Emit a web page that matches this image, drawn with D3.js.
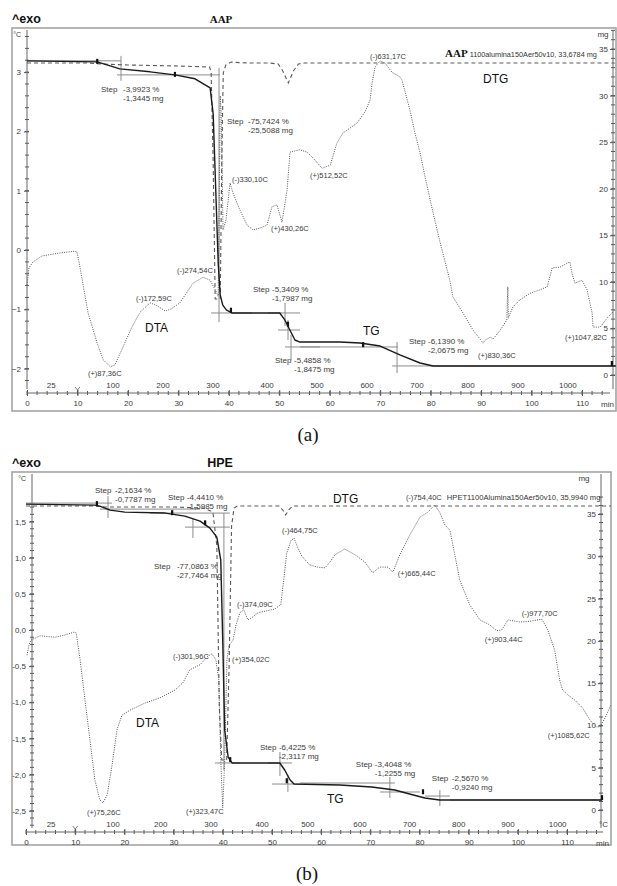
<!DOCTYPE html>
<html>
<head>
<meta charset="utf-8">
<script src="https://cdn.jsdelivr.net/npm/d3@7/dist/d3.min.js"></script>
<style>
  body { margin: 0; background: #fff; }
  svg { display: block; font-family: "Liberation Sans", Arial, sans-serif; }
  .axis text, .lbl { fill: #3a3a3a; font-size: 8px; }
  .axis line { stroke: #555; }
</style>
</head>
<body>
<svg id="chart" width="617" height="886"></svg>
<script>
// shared tick data
const minuteTicks = d3.range(0, 111, 10);
const minuteMinor = d3.range(0, 117, 2);
const tempLabels = ['25', '100', '200', '300', '400', '500', '600', '700', '800', '900', '1000'];
const tempMinutesA = [4.8, 17.05, 26.96, 36.87, 47.6, 57.5, 67.4, 77.3, 87.4, 97.3, 107.2];
const tempMinutesB = [5.1, 17.7, 27.4, 37.6, 48.0, 57.3, 67.9, 78.0, 88.0, 98.0, 108.1];
const mgTicks = [0, 5, 10, 15, 20, 25, 30, 35];

// ---- (a) AAP ----
const dtaTicksA = [-2, -1, 0, 1, 2, 3];
// DTA (min, °C-axis value)
const dtaA = [[0,-0.59],[0.4,-0.30],[1.2,-0.20],[3.0,-0.10],[6.5,-0.05],[9.5,-0.02],[9.9,-0.03],[10.5,-0.29],
  [12.1,-1.06],[13.9,-1.57],[15.1,-1.85],[16.5,-1.97],[17.4,-1.94],[19.0,-1.64],[20.8,-1.30],[22.4,-1.05],
  [24.4,-0.89],[25.8,-0.94],[27.4,-1.03],[28.7,-0.99],[30.3,-0.89],[32.9,-0.56],[34.9,-0.46],[36.3,-0.51],
  [37.3,-0.67],[37.9,-0.78],[38.1,0.84],[38.3,2.6],[38.5,2.3],[38.85,0.34],[39.44,0.51],[40.24,1.13],
  [40.83,0.96],[42.22,0.67],[43.61,0.42],[44.8,0.34],[46.18,0.37],[47.57,0.42],[48.56,0.73],[49.55,0.76],
  [50.54,0.47],[51.54,1.01],[52.13,1.65],[54.1,1.69],[55.5,1.65],[56.7,1.55],[58.5,1.38],[60.1,1.43],
  [61.4,1.80],[62.6,1.97],[65.4,2.14],[67.0,2.33],[68.0,2.53],[68.4,2.82],[69.0,3.09],[70.0,3.19],
  [71.0,3.15],[72.3,3.0],[73.9,2.92],[74.3,2.87],[75.9,2.36],[76.9,1.97],[77.9,1.64],[78.9,1.23],
  [80.5,0.62],[81.9,0.12],[83.8,-0.51],[84.4,-0.79],[86.4,-1.06],[88.4,-1.35],[90.4,-1.57],[90.8,-1.52],
  [91.8,-1.47],[92.4,-1.50],[93.8,-1.35],[95.1,-1.18],[95.3,-0.62],[95.4,-1.15],[96.3,-0.96],[97.7,-0.84],
  [99.7,-0.73],[101.7,-0.67],[103.1,-0.62],[104.1,-0.30],[105.6,-0.29],[107.6,-0.20],[108.0,-0.39],
  [108.6,-0.56],[110.0,-0.51],[111.0,-0.67],[112.0,-1.06],[112.2,-1.30],[113.6,-1.30],[114.96,-1.15],[116.5,-1.01]];
// TG (min, mg)
const tgA = [[0,33.73],[13.9,33.62],[16.5,33.19],[18.4,32.87],[24.4,32.55],[29.3,32.22],[33.3,31.8],
  [36.3,30.83],[36.9,28],[37.4,20],[37.9,12],[38.3,8.6],[38.8,7.5],[39.5,7.0],[40.6,6.66],[50.1,6.66],
  [51.1,5.91],[52.1,4.83],[53.1,3.76],[54.1,3.54],[62,3.54],[66,3.44],[70,3.11],[73.9,2.15],[77.9,1.29],
  [80.5,0.97],[116.7,0.97]];
// DTG (min, mg/min)
const dtgA = [[0,0],[12,0],[15,-0.05],[20,-0.1],[30,-0.15],[36.2,-0.2],[36.5,-0.5],[36.9,-5],[37.3,-11.8],
  [38.3,-11.8],[38.6,-5],[38.9,-0.5],[39.4,-0.1],[40.5,0.05],[42,0.02],[44,0],[48,0],[49.8,-0.05],
  [50.7,-0.4],[51.8,-1.0],[52.8,-0.4],[53.8,-0.05],[55,0],[116.5,0]];
// tangent / onset construction segments (min, mg, min, mg)
const tangentsA = [[0,33.73,18.63,33.73],[17.84,32.22,38.26,32.22],[18.63,34.26,18.63,31.58],
  [38.06,32.97,38.06,5.69],[36.47,6.66,44.6,6.66],[51.14,7.73,51.14,5.26],[47.77,6.66,54.11,6.66],
  [49.75,4.83,54.11,4.83],[51.73,5.91,51.73,3.76],[51.14,3.01,58.08,3.01],[52.33,4.30,52.33,1.61],
  [54.11,3.01,73.54,3.01],[73.34,3.54,73.34,0.21],[72.35,0.97,116.75,0.97]];
const tgMarksA = [[13.9,33.62],[29.3,32.22],[40.4,6.9],[51.7,5.4],[66.6,3.2],[115.9,1.18]];
// step results (label anchor min, °C-axis value, value column min)
const stepsA = [
  {t: 14.67, v: 2.715, tv: 19.03, pct: '-3,9923 %', mg: '-1,3445 mg'},
  {t: 39.64, v: 2.175, tv: 43.81, pct: '-75,7424 %', mg: '-25,5088 mg'},
  {t: 44.80, v: -0.658, tv: 48.56, pct: '-5,3409 %', mg: '-1,7987 mg'},
  {t: 49.16, v: -1.855, tv: 52.93, pct: '-5,4858 %', mg: '-1,8475 mg'},
  {t: 75.72, v: -1.535, tv: 79.48, pct: '-6,1390 %', mg: '-2,0675 mg'}];
const peaksA = [
  {t: 40.63, v: 1.197, text: '(-)330,10C'}, {t: 48.36, v: 0.371, text: '(+)430,26C'},
  {t: 29.73, v: -0.337, text: '(-)274,54C'}, {t: 21.61, v: -0.809, text: '(-)172,59C'},
  {t: 12.09, v: -2.074, text: '(+)87,36C'}, {t: 56.09, v: 1.265, text: '(+)512,52C'},
  {t: 67.99, v: 3.272, text: '(-)631,17C'}, {t: 89.39, v: -1.771, text: '(+)830,36C'},
  {t: 106.64, v: -1.467, text: '(+)1047,82C'}];
const curveNamesA = [{t: 23.39, v: -1.315, text: 'DTA'}, {t: 66.6, v: -1.366, text: 'TG'}, {t: 90.39, v: 2.884, text: 'DTG'}];

// ---- (b) HPE ----
const dtaTicksB = [-2.5, -2, -1.5, -1, -0.5, 0, 0.5, 1, 1.5];
const dtaB = [[0.2,-0.35],[0.6,-0.21],[1.0,-0.14],[2.85,-0.08],[5.9,-0.10],[7.9,-0.07],[9.75,-0.03],[10.2,-0.04],
  [11.0,-0.41],[12.0,-0.97],[13.0,-1.52],[14.0,-2.07],[15.0,-2.35],[15.65,-2.39],[16.5,-2.28],[17.5,-1.87],
  [18.5,-1.38],[19.5,-1.18],[21.1,-1.11],[24.2,-1.01],[27.2,-0.94],[30.3,-0.83],[31.9,-0.73],[33.3,-0.55],
  [35.4,-0.48],[37.0,-0.36],[37.8,-0.33],[38.6,-0.41],[39.2,-0.69],[39.6,-1.8],[40.0,-2.46],[40.4,-1.8],
  [40.85,-0.41],[41.3,-0.21],[42.1,-0.14],[42.7,0.07],[43.5,0.24],[44.3,0.28],[45.1,0.14],[45.9,0.17],
  [47.2,0.24],[48.6,0.26],[50.6,0.29],[51.8,0.35],[52.4,0.69],[53.0,1.06],[53.9,1.24],[54.5,1.27],
  [55.3,1.13],[56.1,1.02],[57.7,0.90],[59.3,0.87],[60.8,0.86],[61.8,0.94],[62.8,1.04],[64.8,1.12],
  [66.9,1.04],[68.9,0.94],[70.5,0.79],[71.9,0.87],[73.6,0.87],[74.6,0.80],[76.0,1.04],[78.0,1.31],
  [80.1,1.56],[81.7,1.63],[83.1,1.73],[84.1,1.63],[85.2,1.45],[86.2,1.38],[88.2,0.69],[90.2,0.35],
  [92.3,0.14],[94.3,0.07],[95.7,-0.01],[96.7,0.0],[98.0,0.14],[100.4,0.11],[102.4,0.12],[104.9,0.15],
  [106.1,0.0],[107.5,-0.28],[108.5,-0.69],[109.1,-0.83],[110.2,-0.90],[111.6,-0.97],[113.2,-1.08],
  [114.6,-1.24],[115.9,-1.34],[116.7,-1.34],[117.7,-1.22],[118.9,-1.04]];
const tgB = [[0,36.17],[14.0,36.05],[15.0,35.93],[17.1,35.46],[20.1,35.22],[28.3,35.11],[32.3,34.75],
  [35.4,34.16],[37.4,33.33],[38.8,32.27],[39.6,29.55],[40.0,20.1],[40.4,9.46],[41.1,6.26],[41.9,5.56],
  [51.6,5.56],[52.6,4.73],[53.7,3.55],[54.5,3.07],[63.8,2.96],[70.3,2.72],[75.0,2.36],[78.0,1.89],
  [81.1,1.42],[84.1,1.18],[117.1,1.18]];
const dtgB = [[0,0],[14,0],[16,-0.05],[30,-0.05],[36,-0.1],[38,-0.3],[38.8,-2],[39.3,-10],[39.8,-12.7],
  [40.8,-12.7],[41.3,-8],[41.8,-1],[42.3,-0.1],[43,0],[51.5,0],[52.2,-0.2],[52.8,-0.45],[53.4,-0.2],
  [54.2,0],[119,0]];
const tangentsB = [[0,36.29,17.48,36.29],[16.67,37.12,16.67,34.52],[15.04,35.58,35.37,35.58],
  [25.2,35.11,41.46,35.11],[33.94,34.52,33.94,32.15],[32.32,33.45,41.46,33.45],[40.24,35.11,40.24,4.73],
  [38.41,5.56,43.5,5.56],[51.63,6.86,51.63,4.02],[49.19,5.56,54.07,5.56],[50,3.07,55.69,3.07],
  [53.25,4.14,53.25,2.13],[55.69,3.19,75,3.19],[73.98,3.9,73.98,1.42],[71.95,2.13,80.08,2.13],
  [84.15,2.36,84.15,0.47],[81.1,1.65,86.18,1.65],[86.18,1.18,117.07,1.18]];
const tgMarksB = [[14.4,36.17],[29.7,35.1],[36.4,33.9],[41.5,5.9],[53.0,3.4],[80.7,2.1],[117.1,1.4]];
const stepsB = [
  {t: 14.02, v: 1.936, tv: 18.09, pct: '-2,1634 %', mg: '-0,7787 mg'},
  {t: 28.86, v: 1.840, tv: 32.72, pct: '-4,4410 %', mg: '-1,5985 mg'},
  {t: 26.02, v: 0.885, tv: 30.69, pct: '-77,0863 %', mg: '-27,7464 mg'},
  {t: 47.56, v: -1.618, tv: 51.42, pct: '-6,4225 %', mg: '-2,3117 mg'},
  {t: 67.07, v: -1.853, tv: 70.93, pct: '-3,4048 %', mg: '-1,2255 mg'},
  {t: 82.52, v: -2.047, tv: 86.59, pct: '-2,5670 %', mg: '-0,9240 mg'}];
const peaksB = [
  {t: 42.89, v: 0.360, text: '(-)374,09C'}, {t: 52.03, v: 1.383, text: '(-)464,75C'},
  {t: 77.24, v: 1.840, text: '(-)754,40C'}, {t: 75.61, v: 0.788, text: '(+)665,44C'},
  {t: 100.81, v: 0.235, text: '(-)977,70C'}, {t: 93.29, v: -0.124, text: '(+)903,44C'},
  {t: 29.88, v: -0.360, text: '(-)301,96C'}, {t: 41.87, v: -0.401, text: '(+)354,02C'},
  {t: 12.40, v: -2.517, text: '(+)75,26C'}, {t: 32.52, v: -2.503, text: '(+)323,47C'},
  {t: 106.1, v: -1.46, text: '(+)1085,62C'}];
const curveNamesB = [{t: 22.36, v: -1.286, text: 'DTA'}, {t: 61.18, v: -2.337, text: 'TG'}, {t: 62.4, v: 1.812, text: 'DTG'}];

const svg = d3.select('#chart');
const comma = f => v => d3.format(f)(v).replace('.', ',').replace('−', '-');

function drawPanel(p) {
  const g = svg.append('g').attr('class', 'panel-' + p.id);
  const x = d3.scaleLinear().domain([0, 110]).range(p.xRange);
  const yDta = d3.scaleLinear().domain([0, 1]).range(p.dtaRange);
  const yMg = d3.scaleLinear().domain([0, 35]).range(p.mgRange);
  const yDtg = d3.scaleLinear().domain([0, -1]).range([p.dtgBase, p.dtgBase + 20]);
  const [fx0, fy0, fx1, fy1] = p.frame;

  svg.append('clipPath').attr('id', 'clip-' + p.id)
    .append('rect').attr('x', fx0).attr('y', fy0).attr('width', fx1 - fx0).attr('height', fy1 - fy0);

  // frame
  g.append('rect')
    .attr('x', fx0).attr('y', fy0).attr('width', fx1 - fx0).attr('height', fy1 - fy0)
    .attr('fill', 'none').attr('stroke', '#a4a4a4').attr('stroke-width', 1.6);

  // headers
  g.append('text').attr('x', fx0).attr('y', fy0 - 5)
    .style('font-size', '12.5px').style('font-weight', 'bold').attr('fill', '#111').text('^exo');
  g.append('text').attr('x', p.titleX).attr('y', fy0 - 5).attr('text-anchor', 'middle')
    .style('font-family', p.titleFont).style('font-size', p.titleSize).style('font-weight', 'bold')
    .attr('fill', '#111').text(p.title);

  // left DTA axis
  const yl = g.append('g').attr('class', 'axis axis--dta')
    .attr('transform', 'translate(' + p.leftX + ',0)')
    .call(d3.axisLeft(yDta).tickValues(p.dtaTicks).tickSize(3).tickPadding(3).tickFormat(p.dtaFormat));
  yl.select('.domain').remove();
  yl.selectAll('.tick line').attr('x1', 2);
  g.append('g').attr('class', 'axis')
    .selectAll('line').data(p.dtaMinor).join('line')
      .attr('x1', p.leftX - 2).attr('x2', p.leftX + 2)
      .attr('y1', d => yDta(d)).attr('y2', d => yDta(d));
  g.append('line').attr('x1', p.leftX).attr('x2', p.leftX)
    .attr('y1', fy0 + 2).attr('y2', p.axisY - 4).attr('stroke', '#666');
  g.append('text').attr('class', 'lbl').attr('x', p.leftX - 6).attr('y', fy0 + 9)
    .attr('text-anchor', 'end').style('font-size', '7px').text('°C');

  // right mg axis
  const yr = g.append('g').attr('class', 'axis axis--mg')
    .attr('transform', 'translate(' + p.rightX + ',0)')
    .call(d3.axisLeft(yMg).tickValues(mgTicks).tickSize(3).tickPadding(2));
  yr.select('.domain').remove();
  yr.selectAll('.tick line').attr('x1', 2);
  g.append('g').attr('class', 'axis')
    .selectAll('line').data(d3.range(0, 38, 1)).join('line')
      .attr('x1', p.rightX - 2).attr('x2', p.rightX + 2)
      .attr('y1', d => yMg(d)).attr('y2', d => yMg(d));
  g.append('line').attr('x1', p.rightX).attr('x2', p.rightX)
    .attr('y1', fy0 + 2).attr('y2', p.axisY - 4).attr('stroke', '#666');
  g.append('text').attr('class', 'lbl').attr('x', p.mgLabelX).attr('y', fy0 + 9)
    .attr('text-anchor', 'middle').text('mg');

  // bottom minutes axis
  const xb = g.append('g').attr('class', 'axis axis--x')
    .attr('transform', 'translate(0,' + p.axisY + ')')
    .call(d3.axisBottom(x).tickValues(minuteTicks).tickSize(3).tickPadding(4));
  xb.select('.domain').remove();
  xb.selectAll('.tick line').attr('y1', -3);
  g.append('g').attr('class', 'axis')
    .selectAll('line').data(minuteMinor.filter(d => x(d) < p.axisEnd)).join('line')
      .attr('x1', d => x(d)).attr('x2', d => x(d))
      .attr('y1', p.axisY - 2).attr('y2', p.axisY + 2);
  g.append('line').attr('x1', x(0)).attr('x2', p.axisEnd)
    .attr('y1', p.axisY).attr('y2', p.axisY).attr('stroke', '#666');
  g.append('text').attr('class', 'lbl').attr('x', fx1 - 2).attr('y', p.axisY + 14)
    .attr('text-anchor', 'end').text('min');
  // start-of-heating marker at 10 min
  const m10 = x(10);
  g.append('path')
    .attr('d', 'M' + (m10 - 2.5) + ',' + (p.axisY - 6) + 'L' + m10 + ',' + (p.axisY - 3) +
      'L' + (m10 + 2.5) + ',' + (p.axisY - 6) + 'M' + m10 + ',' + (p.axisY - 3) + 'L' + m10 + ',' + p.axisY)
    .attr('fill', 'none').attr('stroke', '#555').attr('stroke-width', 0.8);

  // temperature labels above minutes axis
  g.append('g').selectAll('text').data(tempLabels).join('text')
    .attr('class', 'lbl').attr('text-anchor', 'middle')
    .attr('x', (d, i) => x(p.tempMinutes[i])).attr('y', p.axisY - 5).text(d => d);
  if (p.tempUnit) {
    g.append('text').attr('class', 'lbl').attr('x', p.axisEnd - 4).attr('y', p.axisY - 5).text('°C');
  }

  const plot = g.append('g').attr('clip-path', 'url(#clip-' + p.id + ')');

  // tangent construction lines
  plot.append('g').selectAll('line').data(p.tangents).join('line')
    .attr('x1', d => x(d[0])).attr('y1', d => yMg(d[1]))
    .attr('x2', d => x(d[2])).attr('y2', d => yMg(d[3]))
    .attr('stroke', '#8c8c8c').attr('stroke-width', 1);

  // DTG dashed
  plot.append('path').datum(p.dtg)
    .attr('d', d3.line().x(d => x(d[0])).y(d => yDtg(d[1])))
    .attr('fill', 'none').attr('stroke', '#5a5a5a').attr('stroke-width', 1.1)
    .attr('stroke-dasharray', '4,3');

  // DTA dotted
  plot.append('path').datum(p.dta)
    .attr('d', d3.line().x(d => x(d[0])).y(d => yDta(d[1])))
    .attr('fill', 'none').attr('stroke', '#555').attr('stroke-width', 1)
    .attr('stroke-dasharray', '1,1.3');

  // TG solid
  plot.append('path').datum(p.tg)
    .attr('d', d3.line().x(d => x(d[0])).y(d => yMg(d[1])))
    .attr('fill', 'none').attr('stroke', '#1a1a1a').attr('stroke-width', 1.4)
    .attr('stroke-linejoin', 'round');

  plot.append('g').selectAll('rect').data(p.tgMarks).join('rect')
    .attr('x', d => x(d[0]) - 1).attr('y', d => yMg(d[1]) - 3)
    .attr('width', 2.2).attr('height', 5).attr('fill', '#111');

  // step annotations
  const st = g.append('g').selectAll('g').data(p.steps).join('g');
  st.append('text').attr('class', 'lbl')
    .attr('x', d => x(d.t)).attr('y', d => yDta(d.v)).attr('dy', '0.35em').text('Step');
  st.append('text').attr('class', 'lbl')
    .attr('x', d => x(d.tv)).attr('y', d => yDta(d.v)).attr('dy', '0.35em').text(d => d.pct);
  st.append('text').attr('class', 'lbl')
    .attr('x', d => x(d.tv)).attr('y', d => yDta(d.v)).attr('dy', '1.55em').text(d => d.mg);

  // peak labels
  g.append('g').selectAll('text').data(p.peaks).join('text')
    .attr('class', 'lbl').style('font-size', '7.5px')
    .attr('x', d => x(d.t)).attr('y', d => yDta(d.v)).attr('dy', '0.35em').text(d => d.text);

  // curve names
  g.append('g').selectAll('text').data(p.names).join('text')
    .attr('x', d => x(d.t)).attr('y', d => yDta(d.v)).attr('dy', '0.35em')
    .style('font-size', '12px').attr('fill', '#111').text(d => d.text);

  // sample description
  const sd = g.append('text').attr('x', x(p.sample.t)).attr('y', yDta(p.sample.v)).attr('dy', '0.35em')
    .attr('fill', '#333').style('font-size', p.sample.size);
  if (p.sample.bold) {
    sd.append('tspan').style('font-family', '"Liberation Serif", "Times New Roman", serif')
      .style('font-weight', 'bold').style('font-size', '11px').attr('fill', '#111').text(p.sample.bold);
    sd.append('tspan').attr('dx', 2).text(p.sample.text);
  } else {
    sd.text(p.sample.text);
  }

  // caption
  svg.append('text').attr('x', p.captionX).attr('y', p.captionY).attr('text-anchor', 'middle')
    .style('font-family', '"Liberation Serif", "Times New Roman", serif').style('font-size', '19px')
    .attr('fill', '#111').text(p.caption);
}

drawPanel({
  id: 'a', title: 'AAP', titleX: 221, titleFont: '"Liberation Serif", serif', titleSize: '11px',
  frame: [12, 28, 616, 411], xRange: [27, 582], dtaRange: [250, 190.7], mgRange: [375, 49],
  dtgBase: 63, leftX: 27, rightX: 613, axisY: 393, axisEnd: 610, mgLabelX: 603,
  dtaTicks: dtaTicksA, dtaMinor: d3.range(-22, 37, 2).map(d => d / 10), dtaFormat: d3.format('d'),
  tempMinutes: tempMinutesA, tempUnit: false,
  dta: dtaA, tg: tgA, dtg: dtgA, tangents: tangentsA, tgMarks: tgMarksA,
  steps: stepsA, peaks: peaksA, names: curveNamesA,
  sample: {t: 82.85, v: 3.305, bold: 'AAP', text: '1100alumina150Aer50v10, 33,6784 mg', size: '7.3px'},
  caption: '(a)', captionX: 308, captionY: 441
});

drawPanel({
  id: 'b', title: 'HPE', titleX: 220, titleFont: '"Liberation Sans", Arial, sans-serif', titleSize: '12.5px',
  frame: [12, 472, 611, 845], xRange: [26, 567], dtaRange: [630, 557.7], mgRange: [810, 514],
  dtgBase: 506, leftX: 32, rightX: 601, axisY: 832, axisEnd: 603, mgLabelX: 584,
  dtaTicks: dtaTicksB, dtaMinor: d3.range(-27, 18, 1).map(d => d / 10), dtaFormat: comma('.1f'),
  tempMinutes: tempMinutesB, tempUnit: true,
  dta: dtaB, tg: tgB, dtg: dtgB, tangents: tangentsB, tgMarks: tgMarksB,
  steps: stepsB, peaks: peaksB, names: curveNamesB,
  sample: {t: 85.57, v: 1.840, text: 'HPET1100Alumina150Aer50v10, 35,9940 mg', size: '7.6px'},
  caption: '(b)', captionX: 307, captionY: 880
});
</script>
</body>
</html>
